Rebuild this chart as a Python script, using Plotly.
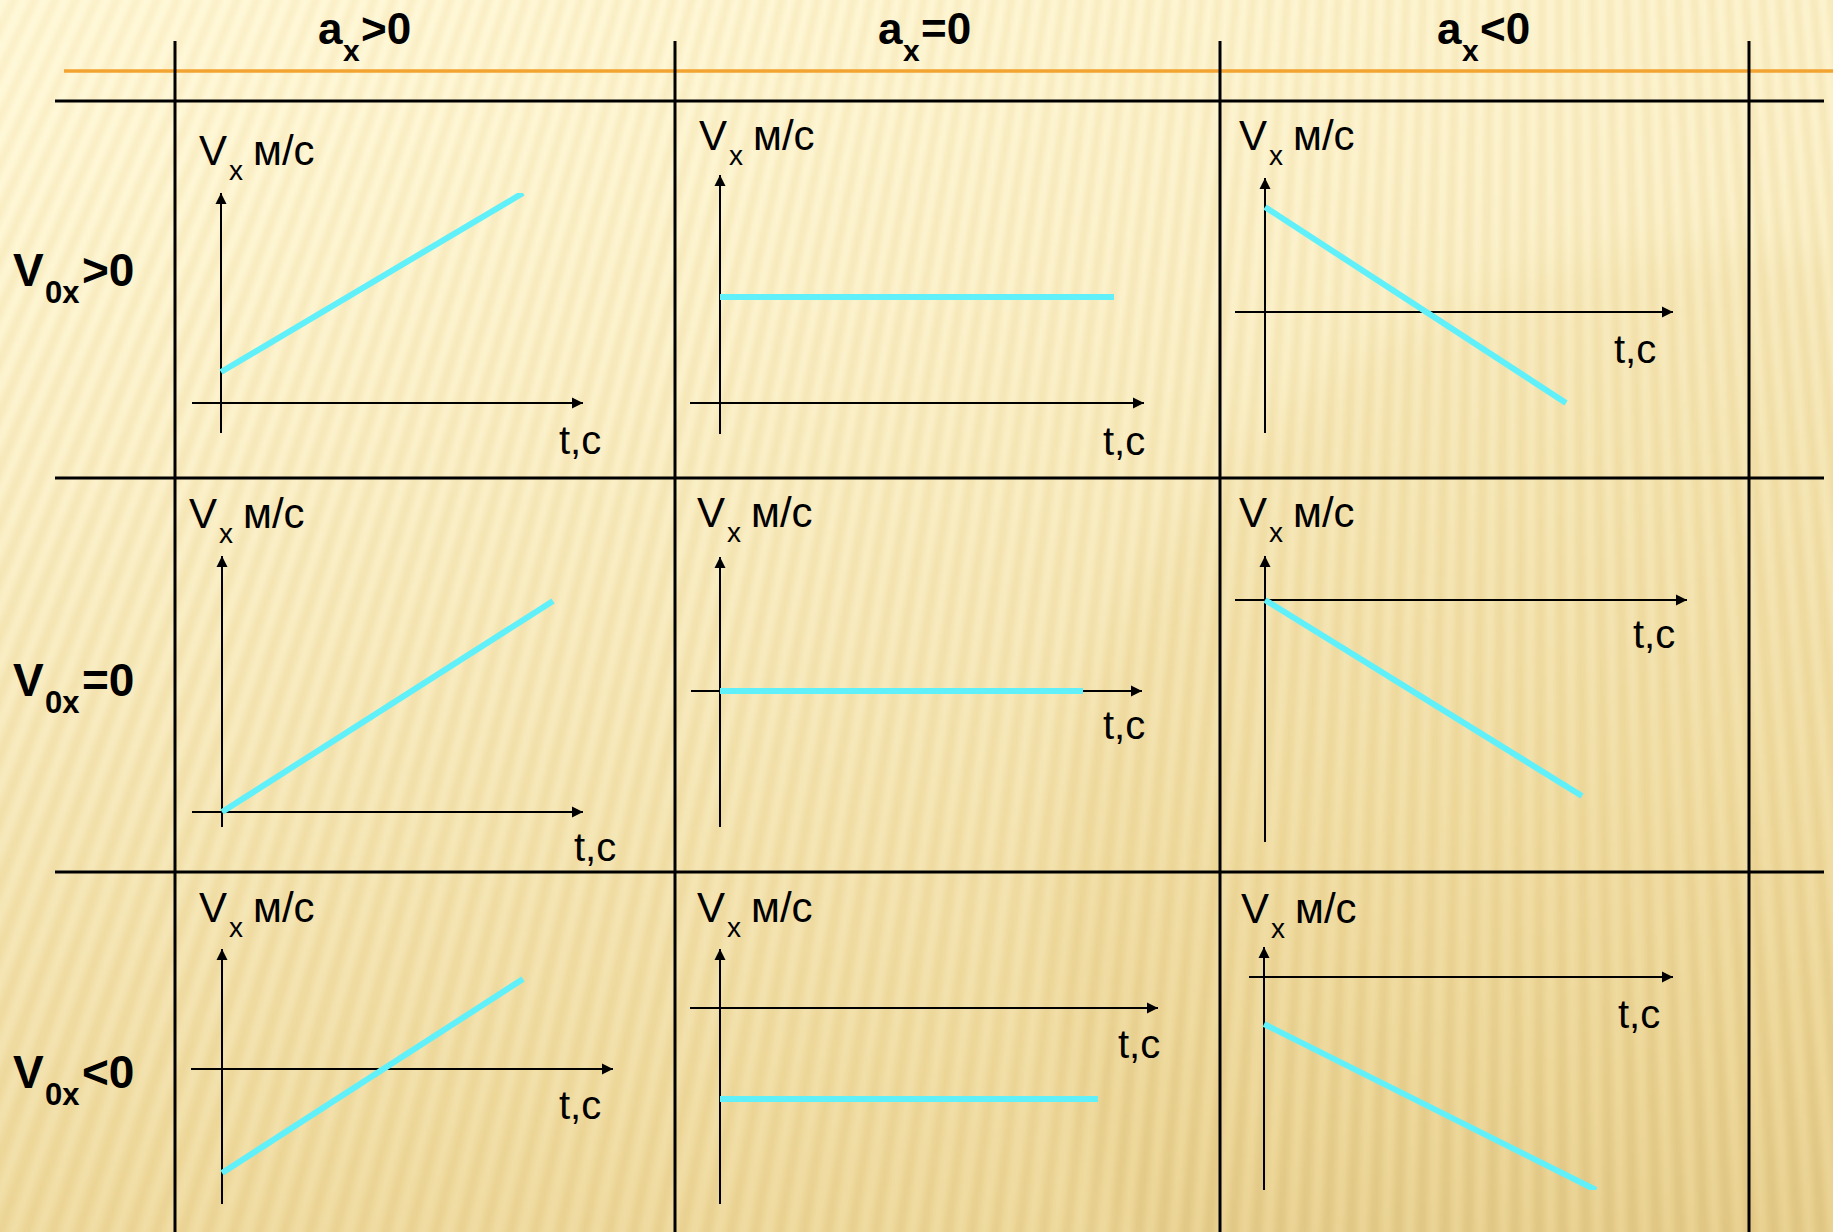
import numpy as np
import plotly.graph_objects as go

W, H = 1833, 1232
PX = 10  # pixels per unit on every small graph

# ---------------- data ----------------
# column headers: sign of the acceleration a_x
col_signs = ["&gt;0", "=0", "&lt;0"]
# row headers: sign of the initial velocity V_0x
row_signs = ["&gt;0", "=0", "&lt;0"]

# v_x(t) segments of the nine graphs (row-major order, arbitrary units)
t_start = [0.0, 0.0, 0.0, 0.0, 0.0, 0.0, 0.0, 0.0, 0.0]
t_end = [30.2, 39.4, 30.1, 33.1, 36.3, 31.7, 30.1, 37.8, 33.2]
v_start = [3.1, 10.6, 10.5, 0.0, 0.0, 0.0, -10.4, -9.1, -4.7]
v_end = [21.0, 10.6, -9.1, 21.1, 0.0, -19.6, 9.0, -9.1, -21.3]

# axis extents of each small graph (units)
t_range = [(-2.9, 36.2), (-3.0, 42.4), (-3.0, 40.8),
           (-3.0, 36.1), (-2.9, 42.2), (-3.0, 42.2),
           (-3.1, 39.1), (-3.0, 43.8), (-1.5, 40.9)]
v_range = [(-3.0, 21.0), (-3.1, 22.8), (-12.1, 13.4),
           (-1.5, 25.6), (-13.6, 13.4), (-24.2, 4.4),
           (-13.5, 12.0), (-19.6, 5.9), (-21.3, 3.0)]

# ---------------- page geometry (pixels) ----------------
origins = [(221, 403), (720, 403), (1265, 312),
           (222, 812), (720, 691), (1265, 600),
           (222, 1069), (720, 1008), (1264, 977)]
v_label_pos = [(197, 165), (697, 150), (1237, 150),
               (187, 528), (695, 527), (1237, 527),
               (197, 922), (695, 922), (1239, 923)]
t_label_pos = [(557, 454), (1101, 455), (1612, 363),
               (572, 861), (1101, 739), (1631, 648),
               (557, 1119), (1116, 1058), (1616, 1028)]
header_left = [316, 876, 1435]
row_base = [286, 696, 1088]
grid_x = [175, 675, 1220, 1749]
grid_y = [101, 478, 872]

CYAN = "rgb(96,240,250)"
TEXT_FONT = "Liberation Sans, Arial, sans-serif"
HEAD_FONT = "Liberation Sans, Arial, sans-serif"

fig = go.Figure()

# ---------------- backdrop: warm paper with sunburst stripes ----------------
step = 4
xs = np.arange(0, W + step, step)
ys = np.arange(0, H + step, step)
X, Y = np.meshgrid(xs, ys)
shade = 0.95 - 0.42 * (Y / H) ** 1.3 - 0.10 * (X / W)
d = np.hypot(X - 1720, Y - 920) / 670.0
shade -= 0.07 / (1 + np.exp((d - 1) / 0.02))
theta = np.arctan2(X - 1550, Y + 3200)
shade += 0.075 * np.cos(2 * np.pi * theta / 0.0053)
zbg = np.clip(np.round(shade * 100), 0, 100).astype(np.uint8)

fig.add_trace(go.Heatmap(
    z=zbg, x0=0, dx=step, y0=0, dy=step,
    zmin=0, zmax=100, zsmooth="best", showscale=False, hoverinfo="skip",
    colorscale=[[0.0, "rgb(205,172,98)"], [0.5, "rgb(237,215,153)"],
                [1.0, "rgb(255,248,216)"]],
    xaxis="x", yaxis="y",
))

layout_axes = dict(
    xaxis=dict(domain=[0, 1], range=[0, W], visible=False, fixedrange=True),
    yaxis=dict(domain=[0, 1], range=[H, 0], visible=False, fixedrange=True),
)

annotations = []


def text(x, baseline, s, size, family, bold=False):
    annotations.append(dict(
        x=x, y=baseline - 0.35 * size, xref="x", yref="y", text=s,
        showarrow=False, xanchor="left", yanchor="middle",
        font=dict(size=size, family=family, color="black",
                  weight="bold" if bold else "normal"),
    ))


# ---------------- the nine small graphs ----------------
for i in range(9):
    n = i + 2
    ox, oy = origins[i]
    t0, t1 = t_range[i]
    v0, v1 = v_range[i]
    left, right = ox + t0 * PX, ox + t1 * PX
    top, bottom = oy - v1 * PX, oy - v0 * PX
    common = dict(showgrid=False, zeroline=True, zerolinecolor="black",
                  zerolinewidth=2, showticklabels=False, ticks="",
                  showline=False, fixedrange=True)
    layout_axes[f"xaxis{n}"] = dict(domain=[left / W, right / W], range=[t0, t1],
                                    anchor=f"y{n}", **common)
    layout_axes[f"yaxis{n}"] = dict(domain=[1 - bottom / H, 1 - top / H],
                                    range=[v0, v1], anchor=f"x{n}", **common)

    fig.add_trace(go.Scatter(
        x=[t_start[i], t_end[i]], y=[v_start[i], v_end[i]],
        mode="lines", line=dict(color=CYAN, width=6),
        cliponaxis=False, hoverinfo="skip", showlegend=False,
        xaxis=f"x{n}", yaxis=f"y{n}",
    ))

    # arrow heads of the V and t axes
    for (hx, hy, tx, ty) in [(0, v1, 0, v1 - 1.4), (t1, 0, t1 - 1.4, 0)]:
        annotations.append(dict(
            x=hx, y=hy, ax=tx, ay=ty, xref=f"x{n}", yref=f"y{n}",
            axref=f"x{n}", ayref=f"y{n}", text="", showarrow=True,
            arrowhead=2, arrowsize=1.1, arrowwidth=2, arrowcolor="black",
        ))

    vx, vb = v_label_pos[i]
    text(vx, vb, "V", 42, TEXT_FONT)
    text(vx + 30, vb + 15, "x", 28, TEXT_FONT)
    text(vx + 54, vb, "м/с", 42, TEXT_FONT)
    tx, tb = t_label_pos[i]
    text(tx, tb, "t,c", 40, TEXT_FONT)

# ---------------- table headers ----------------
for j, s in enumerate(col_signs):
    xl = header_left[j]
    text(xl, 44, "a", 44, HEAD_FONT, bold=True)
    text(xl + 25, 61, "x", 30, HEAD_FONT, bold=True)
    text(xl + 43, 44, s, 44, HEAD_FONT, bold=True)

for k, s in enumerate(row_signs):
    yb = row_base[k]
    text(11, yb, "V", 46, HEAD_FONT, bold=True)
    text(43, yb + 17, "0x", 31, HEAD_FONT, bold=True)
    text(80, yb, s, 46, HEAD_FONT, bold=True)

# ---------------- table rules ----------------
shapes = [dict(type="line", xref="x", yref="y", x0=64, x1=W, y0=71, y1=71,
               line=dict(color="rgb(242,163,48)", width=3.5), layer="above")]
for gy in grid_y:
    shapes.append(dict(type="line", xref="x", yref="y", x0=55, x1=1824,
                       y0=gy, y1=gy, line=dict(color="black", width=3),
                       layer="above"))
for gx in grid_x:
    shapes.append(dict(type="line", xref="x", yref="y", x0=gx, x1=gx,
                       y0=41, y1=H, line=dict(color="black", width=3),
                       layer="above"))

fig.update_layout(
    width=W, height=H, margin=dict(l=0, r=0, t=0, b=0, pad=0),
    paper_bgcolor="rgb(243,226,176)", plot_bgcolor="rgba(0,0,0,0)",
    showlegend=False, annotations=annotations, shapes=shapes,
    **layout_axes,
)

fig.write_html("out.html", config={"displayModeBar": False})
